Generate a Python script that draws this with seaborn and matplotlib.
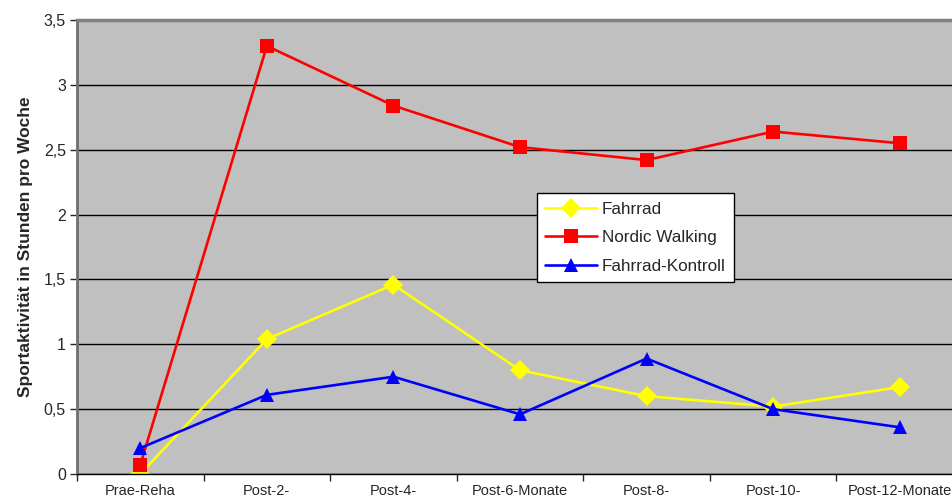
import numpy as np
import pandas as pd
import matplotlib
matplotlib.use("Agg")
import matplotlib.pyplot as plt
import seaborn as sns
from matplotlib.ticker import FuncFormatter, FixedLocator

# chart data
zeitpunkte = ["Prae-Reha", "Post-2-", "Post-4-", "Post-6-Monate", "Post-8-", "Post-10-", "Post-12-Monate"]
fahrrad = [0.0, 1.04, 1.46, 0.80, 0.60, 0.52, 0.67]
nordic_walking = [0.07, 3.30, 2.84, 2.52, 2.42, 2.64, 2.55]
fahrrad_kontroll = [0.20, 0.61, 0.75, 0.46, 0.89, 0.50, 0.36]
gruppen = ["Fahrrad", "Nordic Walking", "Fahrrad-Kontroll"]


def main():
    rows = []
    for name, vals in zip(gruppen, [fahrrad, nordic_walking, fahrrad_kontroll]):
        for i, v in enumerate(vals):
            rows.append({"pos": i, "wert": v, "gruppe": name})
    df = pd.DataFrame(rows)

    sns.set_style("white")
    plt.rcParams['font.family'] = ['Liberation Sans', 'DejaVu Sans']

    fig = plt.figure(figsize=(9.52, 5.01), dpi=100)
    ax = fig.add_axes([77 / 952, 27 / 501, 886 / 952, 454 / 501])
    ax.set_facecolor("#C0C0C0")

    farben = {"Fahrrad": "#FFFF00", "Nordic Walking": "#FF0000", "Fahrrad-Kontroll": "#0000FF"}
    marker = {"Fahrrad": "D", "Nordic Walking": "s", "Fahrrad-Kontroll": "^"}
    sns.lineplot(data=df, x="pos", y="wert", hue="gruppe", style="gruppe",
                 palette=farben, markers=marker, dashes=False, sort=False,
                 linewidth=1.9, markersize=10.5, markeredgewidth=0, ax=ax)

    ax.set_xlim(-0.5, 6.5)
    ax.set_ylim(0, 3.5)
    ax.yaxis.set_major_locator(FixedLocator(np.arange(0, 3.51, 0.5)))
    ax.yaxis.set_major_formatter(FuncFormatter(lambda v, p: ("%g" % v).replace(".", ",")))
    ax.grid(axis="y", color="black", linewidth=1)
    ax.set_axisbelow(True)

    ax.set_xticks(range(len(zeitpunkte)))
    ax.set_xticklabels(zeitpunkte)
    ax.set_xticks(np.arange(-0.5, 6.6, 1), minor=True)
    ax.tick_params(axis="x", which="major", length=0, pad=7, labelsize=10.5)
    ax.tick_params(axis="x", which="minor", length=5, width=1, direction="out", bottom=True)
    ax.tick_params(axis="y", length=5, width=1, direction="out", left=True, labelsize=11.5, pad=3)

    ax.set_xlabel("")
    ax.set_ylabel("Sportaktivität in Stunden pro Woche", fontsize=12.5, fontweight="bold", labelpad=8)

    ax.spines["bottom"].set_color("black")
    ax.spines["bottom"].set_linewidth(1)
    ax.spines["left"].set_color("#707070")
    ax.spines["left"].set_linewidth(2)
    ax.spines["top"].set_color("#808080")
    ax.spines["top"].set_linewidth(2.5)
    ax.spines["right"].set_color("#808080")

    leg = ax.legend(loc="upper left", bbox_to_anchor=(0.519, 0.619), borderaxespad=0,
                    fontsize=12.3, frameon=True, fancybox=False, framealpha=1,
                    edgecolor="black", handlelength=3.0, labelspacing=0.8,
                    borderpad=0.5, handletextpad=0.3)
    leg.get_frame().set_linewidth(1)

    fig.savefig("out.png", dpi=100)


if __name__ == "__main__":
    main()
